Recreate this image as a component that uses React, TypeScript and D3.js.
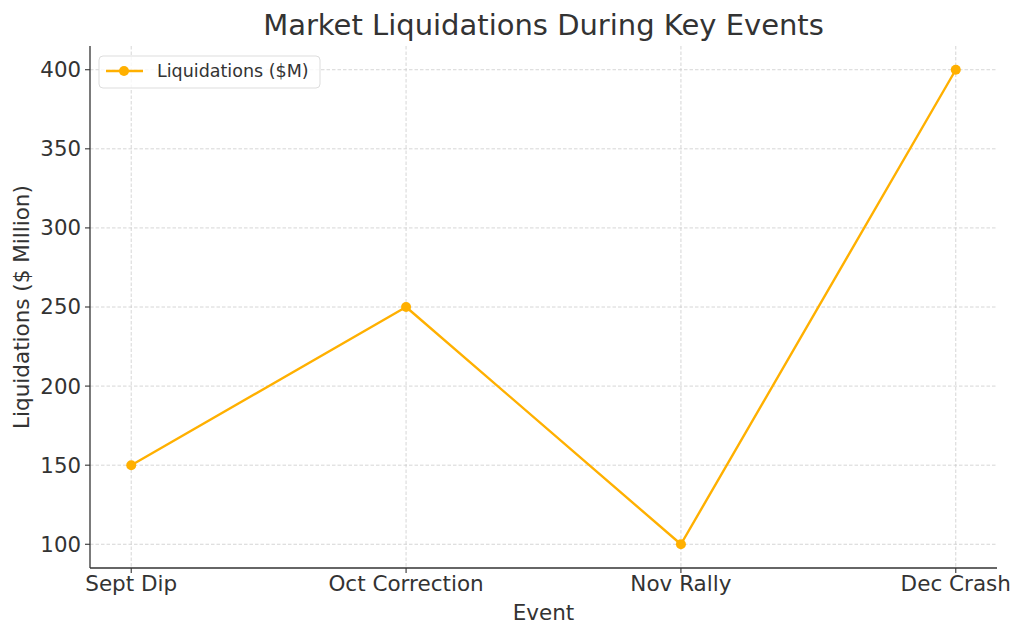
import React from 'react';
import * as d3 from 'd3';

const events = ['Sept Dip', 'Oct Correction', 'Nov Rally', 'Dec Crash'];
const liquidations = [150, 250, 100, 400];
const yTicks = [100, 150, 200, 250, 300, 350, 400];

const W = 1024;
const H = 638;
const M = { left: 90, right: 997, top: 46, bottom: 568 };
const COLOR = '#FFB000';
const FONT = 'DejaVu Sans, sans-serif';

export default function App() {
  const x = d3.scaleLinear().domain([-0.15, 3.15]).range([M.left, M.right]);
  const y = d3.scaleLinear().domain([85, 415]).range([M.bottom, M.top]);

  const line = d3.line<number>()
    .x((d, i) => x(i))
    .y(d => y(d));

  return (
    <svg width={W} height={H} style={{ position: 'absolute', left: 0, top: 0 }} fontFamily={FONT}>
      <rect width={W} height={H} fill="white" />
      <text x={(M.left + M.right) / 2} y={35} textAnchor="middle" fontSize={29} fill="#333">
        Market Liquidations During Key Events
      </text>

      {/* grid */}
      {yTicks.map(t => (
        <line key={'gy' + t} x1={M.left} x2={M.right} y1={y(t)} y2={y(t)}
          stroke="#ccc" strokeWidth={0.8} strokeDasharray="3.5,2" />
      ))}
      {events.map((e, i) => (
        <line key={'gx' + e} x1={x(i)} x2={x(i)} y1={M.top} y2={M.bottom}
          stroke="#ccc" strokeWidth={0.8} strokeDasharray="3.5,2" />
      ))}

      {/* axes */}
      <line x1={M.left} x2={M.left} y1={M.top} y2={M.bottom} stroke="#333" strokeWidth={1.3} />
      <line x1={M.left} x2={M.right} y1={M.bottom} y2={M.bottom} stroke="#333" strokeWidth={1.3} />

      {yTicks.map(t => (
        <g key={'ty' + t}>
          <line x1={M.left - 5} x2={M.left} y1={y(t)} y2={y(t)} stroke="#333" strokeWidth={1.1} />
          <text x={M.left - 9} y={y(t)} dy="0.35em" textAnchor="end" fontSize={21.3} fill="#333">{t}</text>
        </g>
      ))}
      {events.map((e, i) => (
        <g key={'tx' + e}>
          <line x1={x(i)} x2={x(i)} y1={M.bottom} y2={M.bottom + 5} stroke="#333" strokeWidth={1.1} />
          <text x={x(i)} y={M.bottom + 23} textAnchor="middle" fontSize={21.5} fill="#333">{e}</text>
        </g>
      ))}

      <text x={(M.left + M.right) / 2} y={620} textAnchor="middle" fontSize={21.5} fill="#333">Event</text>
      <text transform={`translate(29,${(M.top + M.bottom) / 2}) rotate(-90)`} textAnchor="middle"
        fontSize={21.5} fill="#333">Liquidations ($ Million)</text>

      {/* series */}
      <path d={line(liquidations) || ''} fill="none" stroke={COLOR} strokeWidth={2.4} strokeLinejoin="round" />
      {liquidations.map((v, i) => (
        <circle key={'p' + i} cx={x(i)} cy={y(v)} r={5} fill={COLOR} />
      ))}

      {/* legend */}
      <g>
        <rect x={99} y={56} width={221} height={32} rx={4} fill="white" fillOpacity={0.8}
          stroke="#ddd" strokeWidth={1} />
        <line x1={106} x2={143} y1={71} y2={71} stroke={COLOR} strokeWidth={2.4} />
        <circle cx={124} cy={71} r={5} fill={COLOR} />
        <text x={157} y={71} dy="0.35em" fontSize={17.5} fill="#333">Liquidations ($M)</text>
      </g>
    </svg>
  );
}
